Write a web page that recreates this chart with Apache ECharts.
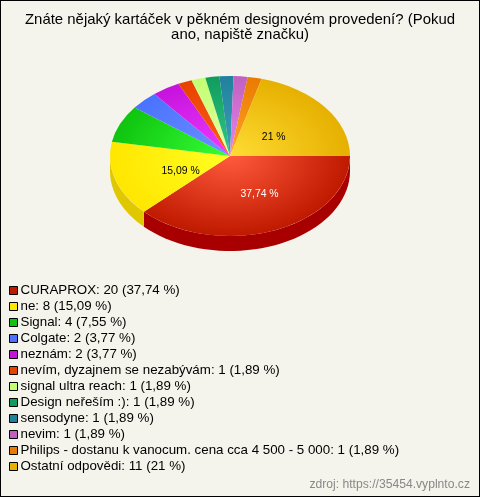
<!DOCTYPE html>
<html>
<head>
<meta charset="utf-8">
<style>
html,body{margin:0;padding:0;background:#f5f4ec;}
#chart{width:480px;height:497px;box-sizing:border-box;border:1px solid #000;}
</style>
<script src="https://cdn.jsdelivr.net/npm/echarts@6/dist/echarts.min.js"></script>
</head>
<body>
<div id="chart"></div>
<script>
'use strict';

let categories = ['CURAPROX','ne','Signal','Colgate','neznám','nevím, dyzajnem se nezabývám','signal ultra reach','Design neřeším :)','sensodyne','nevim','Philips - dostanu k vanocum. cena cca 4 500 - 5 000','Ostatní odpovědi'];
let counts = [20,8,4,2,2,1,1,1,1,1,1,11];
let percents = ['37,74','15,09','7,55','3,77','3,77','1,89','1,89','1,89','1,89','1,89','1,89','21'];
// only the three big slices carry a label in the picture
let sliceLabels = ['37,74 %','15,09 %','','','','','','','','','','21 %'];

let edgeColors = ['#bf1a00','#ffe600','#0fc40f','#4a72ff','#c612dc','#e84200','#c2ff72','#109c5c','#21819d','#c060c0','#ea7a00','#e6b000'];
let centerColors = ['#ff5a3c','#ffff22','#36ff36','#6e90ff','#ee3cff','#ff5c18','#e6ffa8','#30c888','#3ca0b8','#e488ee','#ffa428','#ffdc34'];
let sideColors = ['#a80000','#e0c800'];
let labelColors = ['#fff','#000','','','','','','','','','','#000'];

// pie layout, canvas is inside the 1px border
const cx = 229, cy = 155, rx = 120, ry = 80, depth = 15;
const labelOffset = {0:[7,1], 1:[8,3], 11:[-4,5]};

let total = counts.reduce(function(a,b){return a+b;},0);
let starts = [];
counts.reduce(function(sum,v,i){ starts[i] = sum/total*Math.PI*2; return sum+v; },0);

let renderSlice = function(i){
    return function(){
        let a0 = starts[i];
        let a1 = a0 + counts[i]/total*Math.PI*2;
        let children = [{
            type:'sector',
            x:cx, y:cy, scaleY:ry/rx,
            z2:2,
            shape:{cx:0,cy:0,r:rx,r0:0,startAngle:a0,endAngle:a1,clockwise:true},
            style:{fill:{
                type:'radial',x:0,y:0,r:rx,global:true,
                colorStops:[{offset:0,color:centerColors[i]},{offset:1,color:edgeColors[i]}]
            },stroke:null}
        }];
        // visible wall, lower half of the ellipse only
        let s0 = a0, s1 = Math.min(a1,Math.PI);
        if(s0 < Math.PI){
            let pts = [];
            for(let k=0;k<=40;k++){
                let t = s0+(s1-s0)*k/40;
                pts.push([cx+rx*Math.cos(t),cy+ry*Math.sin(t)]);
            }
            for(let k=40;k>=0;k--){
                let t = s0+(s1-s0)*k/40;
                pts.push([cx+rx*Math.cos(t),cy+ry*Math.sin(t)+depth]);
            }
            children.push({type:'polygon',z2:1,shape:{points:pts},style:{fill:sideColors[i]}});
        }
        if(sliceLabels[i]){
            let mid = (a0+a1)/2;
            let off = labelOffset[i];
            children.push({
                type:'text',z2:3,
                x:cx+rx*0.5*Math.cos(mid)+off[0],
                y:cy+ry*0.5*Math.sin(mid)+off[1],
                style:{text:sliceLabels[i],fill:labelColors[i],align:'center',verticalAlign:'middle',
                    font:'10.4px "Liberation Sans"'}
            });
        }
        return {type:'group',children:children};
    };
};

let series = categories.map(function(name,i){
    return {
        type:'custom',
        name:name,
        coordinateSystem:'none',
        silent:true,
        animation:false,
        data:[counts[i]],
        itemStyle:{color:edgeColors[i]},
        renderItem:renderSlice(i)
    };
});

let myChart = echarts.init(document.getElementById('chart'));
myChart.setOption({
    backgroundColor:'#f5f4ec',
    animation:false,
    title:[{
        text:'Znáte nějaký kartáček v pěkném designovém provedení? (Pokud\nano, napiště značku)',
        left:239,top:11,padding:0,
        textAlign:'center',
        textStyle:{fontFamily:'Liberation Sans',fontSize:14.95,fontWeight:'normal',color:'#000',lineHeight:15}
    },{
        text:'zdroj: https://35454.vyplnto.cz',
        right:9,top:478,padding:0,
        textStyle:{fontFamily:'Liberation Sans',fontSize:12.15,fontWeight:'normal',color:'#888'}
    }],
    legend:{
        orient:'vertical',left:8,top:283,padding:0,
        itemWidth:8,itemHeight:8,itemGap:3,
        selectedMode:false,icon:'rect',
        data:categories,
        formatter:function(name){
            let i = categories.indexOf(name);
            return name+': '+counts[i]+' ('+percents[i]+' %)';
        },
        itemStyle:{borderColor:'#000',borderWidth:1},
        textStyle:{fontFamily:'Liberation Sans',fontSize:13.33,color:'#000',lineHeight:12,padding:[0,0,0,-2]}
    },
    series:series
});
</script>
</body>
</html>
